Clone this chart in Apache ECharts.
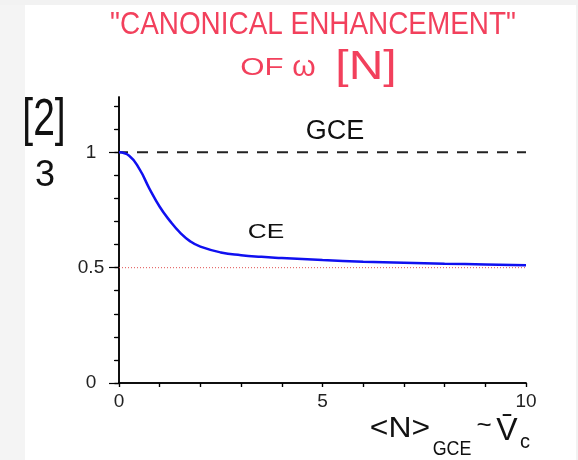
<!DOCTYPE html>
<html>
<head>
<meta charset="utf-8">
<script src="https://cdn.jsdelivr.net/npm/echarts@6/dist/echarts.min.js"></script>
<style>
  html, body { margin: 0; padding: 0; background: #ffffff; }
  #chart { width: 578px; height: 460px; }
</style>
</head>
<body>
<div id="chart"></div>
<script>
// Canonical / grand-canonical ratio versus mean multiplicity
const nValues = [0, 0.25, 0.5, 0.75, 1, 1.25, 1.5, 1.75, 2, 2.5, 3, 3.5, 4, 5, 6, 7, 8, 9, 10];
const ceRatio = [1.0, 0.985, 0.928, 0.842, 0.764, 0.703, 0.652, 0.614, 0.591, 0.566, 0.554, 0.547, 0.542, 0.533, 0.526, 0.521, 0.517, 0.514, 0.511];
const gceRatio = 1;
const limitRatio = 0.5;
const xRange = [0, 10];
const yRange = [0, 1.24];
const xTickLabels = [0, 5, 10];
const yTickLabels = [0, 0.5, 1];
const xMinorTicks = [0, 1, 2, 3, 4, 5, 6, 7, 8, 9, 10];
const yMinorTicks = [0, 0.1, 0.2, 0.3, 0.4, 0.5, 0.6, 0.7, 0.8, 0.9, 1.0, 1.1, 1.2];

const ink = '#111111';
const pen = '#f2405c';
const axisFont = 'Liberation Sans, Arial, sans-serif';
const handFont = 'Liberation Sans, DejaVu Sans, sans-serif';

const chart = echarts.init(document.getElementById('chart'), null, { renderer: 'canvas' });

const frameLine = { show: true, lineStyle: { color: '#000', width: 1.5 } };

function text(str, x, y, size, color, extra) {
  return Object.assign({
    type: 'text', x: x, y: y,
    style: {
      text: str, fill: color, font: size + 'px ' + handFont,
      textAlign: 'center', textVerticalAlign: 'middle'
    }
  }, extra || {});
}

chart.setOption({
  backgroundColor: '#ffffff',
  animation: false,
  grid: { left: 119, right: 52, top: 97, bottom: 77, containLabel: false },
  xAxis: [
    {
      type: 'value', position: 'bottom', min: xRange[0], max: xRange[1],
      axisLine: frameLine,
      axisTick: { show: true, inside: false, length: 4, customValues: xMinorTicks, lineStyle: { color: '#000', width: 1.2 } },
      axisLabel: { show: true, customValues: xTickLabels, margin: 9, fontSize: 19, color: '#222', fontFamily: axisFont },
      splitLine: { show: false }
    },
    {
      type: 'value', position: 'top', min: xRange[0], max: xRange[1],
      axisLine: frameLine,
      axisTick: { show: true, inside: true, length: 4, customValues: xMinorTicks, lineStyle: { color: '#000', width: 1.2 } },
      axisLabel: { show: false },
      splitLine: { show: false }
    }
  ],
  yAxis: [
    {
      type: 'value', position: 'left', min: yRange[0], max: yRange[1],
      axisLine: frameLine,
      axisTick: { show: true, inside: false, length: 5, customValues: yMinorTicks, lineStyle: { color: '#000', width: 1.2 } },
      axisLabel: { show: false },
      splitLine: { show: false }
    },
    {
      type: 'value', position: 'right', min: yRange[0], max: yRange[1],
      axisLine: frameLine,
      axisTick: { show: true, inside: true, length: 4, customValues: yMinorTicks, lineStyle: { color: '#000', width: 1.2 } },
      axisLabel: { show: false },
      splitLine: { show: false }
    },
    {
      type: 'value', position: 'left', min: yRange[0], max: yRange[1],
      axisLine: { show: false },
      axisTick: { show: true, inside: false, length: 10, customValues: yTickLabels, lineStyle: { color: '#000', width: 1.2 } },
      axisLabel: { show: true, customValues: yTickLabels, margin: 28, align: 'center', fontSize: 19, color: '#222', fontFamily: axisFont },
      splitLine: { show: false }
    }
  ],
  series: [
    {
      name: 'limit', type: 'line', xAxisIndex: 0, yAxisIndex: 0,
      data: [[xRange[0], limitRatio], [xRange[1], limitRatio]],
      symbol: 'none', z: 2,
      lineStyle: { color: '#e05050', width: 1, type: [1, 2] }
    },
    {
      name: 'GCE', type: 'line', xAxisIndex: 0, yAxisIndex: 0,
      data: [[xRange[0], gceRatio], [xRange[1], gceRatio]],
      symbol: 'none', z: 3,
      lineStyle: { color: '#222', width: 2, type: [11, 9], dashOffset: 2 }
    },
    {
      name: 'CE', type: 'line', xAxisIndex: 0, yAxisIndex: 0,
      data: nValues.map((n, i) => [n, ceRatio[i]]),
      symbol: 'none', smooth: true, z: 4,
      lineStyle: { color: '#1010f0', width: 2.5 }
    }
  ],
  graphic: [
    // page margins
    { type: 'rect', shape: { x: 0, y: 0, width: 25, height: 460 }, style: { fill: '#f4f4f4' }, silent: true },
    { type: 'rect', shape: { x: 0, y: 0, width: 578, height: 5 }, style: { fill: '#f2f2f2' }, silent: true },
    { type: 'rect', shape: { x: 576, y: 0, width: 2, height: 460 }, style: { fill: '#f2f2f2' }, silent: true },

    // heading
    text('"CANONICAL ENHANCEMENT"', 313, 25, 31, pen, { scaleX: 0.9 }),
    text('OF', 262, 68, 24, pen, { scaleX: 1.3 }),
    text('ω', 304, 68, 30, pen),
    text('[N]', 366, 68, 40, pen, { scaleX: 1.2 }),

    // curve labels
    text('GCE', 335, 132, 27, ink),
    text('CE', 266, 232, 21, ink, { scaleX: 1.25 }),

    // vertical axis name
    text('[2]', 44, 121, 52, ink, { scaleX: 0.75 }),
    text('3', 45, 176, 36, ink),

    // horizontal axis name
    text('<N>', 400, 429, 29, ink, { scaleX: 1.1 }),
    text('GCE', 452, 449, 21, ink, { scaleX: 0.85 }),
    text('~', 484, 426, 26, ink),
    text('V̄', 507, 431, 32, ink),
    text('c', 525, 442, 20, ink)
  ]
});
</script>
</body>
</html>
